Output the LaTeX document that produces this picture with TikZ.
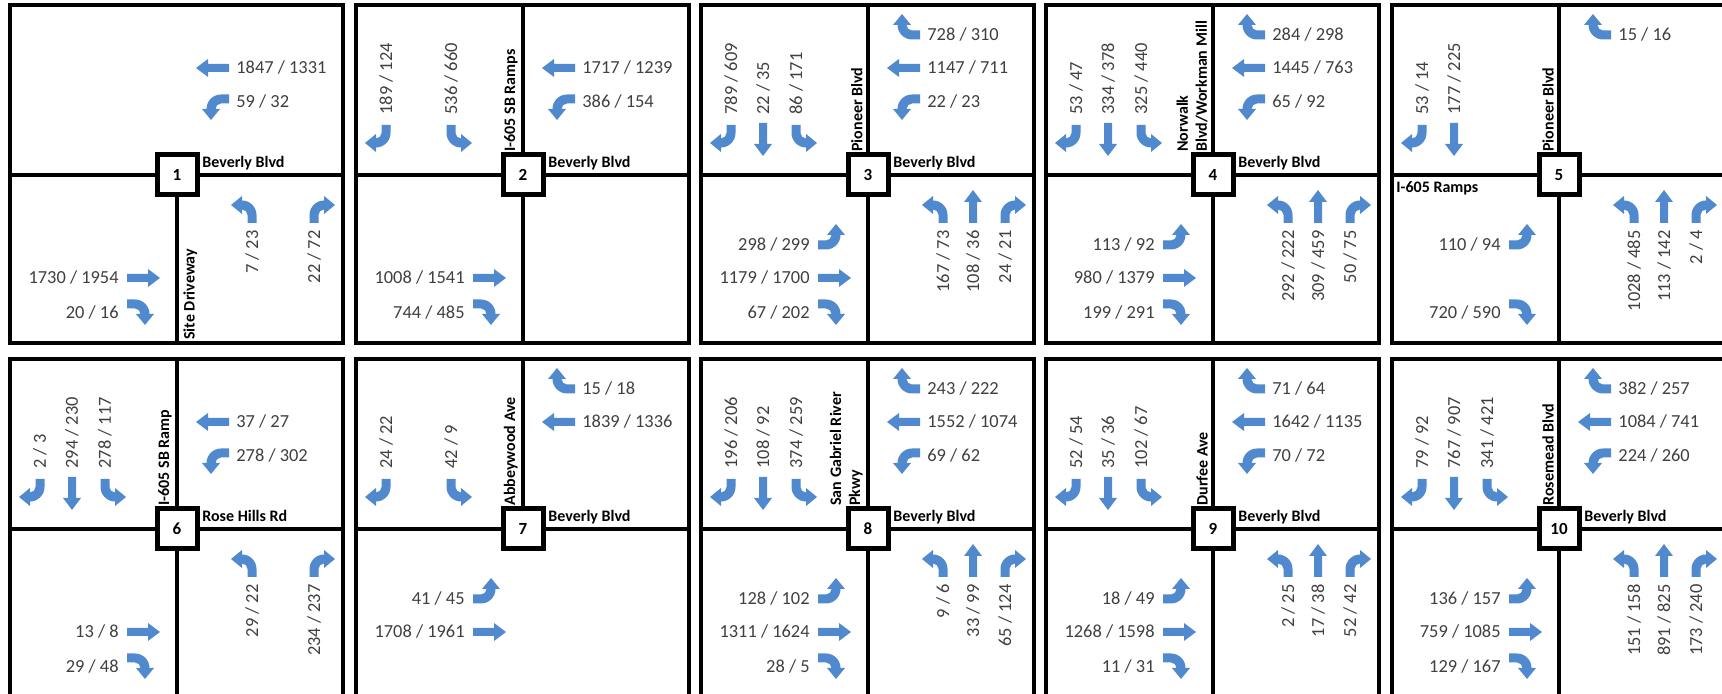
\documentclass[tikz,border=0pt]{standalone}
\usepackage{fontspec}
\setmainfont{Carlito}
\definecolor{flowblue}{RGB}{80,137,206}
\definecolor{voltext}{RGB}{64,64,64}
\tikzset{
  lturn/.pic={\fill[flowblue] (4.5,0) -- (4.5,8) arc[start angle=0,end angle=90,radius=14.5] -- (-10,27) -- (-21,18) -- (-10,9) -- (-10,13.5) arc[start angle=90,end angle=0,radius=5.5] -- (-4.5,0) -- cycle;},
  rturn/.pic={\fill[flowblue] (-4.5,0) -- (-4.5,8) arc[start angle=180,end angle=90,radius=14.5] -- (10,27) -- (21,18) -- (10,9) -- (10,13.5) arc[start angle=90,end angle=180,radius=5.5] -- (4.5,0) -- cycle;},
  thru/.pic={\fill[flowblue] (-4,0) -- (-4,21) -- (-9,21) -- (0,33) -- (9,21) -- (4,21) -- (4,0) -- cycle;}
}
% one movement: arrow + volume label, placed relative to the intersection
\newcommand\mv[3]{\csname mv#1\endcsname{#2}{#3}}
\newcommand\mvsbrt[2]{\pic[rotate=180] at (-137,50) {rturn}; \node[vol,rotate=90,anchor=west] (#2) at (-137,58) {#1};}
\newcommand\mvsbth[2]{\pic[rotate=180] at (-105,52) {thru}; \node[vol,rotate=90,anchor=west] (#2) at (-105,58) {#1};}
\newcommand\mvsblt[2]{\pic[rotate=180] at (-72,50) {lturn}; \node[vol,rotate=90,anchor=west] (#2) at (-72,58) {#1};}
\newcommand\mvwbrt[2]{\pic[rotate=90] at (52,140) {rturn}; \node[vol,anchor=west] (#2) at (57,140) {#1};}
\newcommand\mvwbth[2]{\pic[rotate=90] at (52,107) {thru}; \node[vol,anchor=west] (#2) at (57,107) {#1};}
\newcommand\mvwblt[2]{\pic[rotate=90] at (52,76) {lturn}; \node[vol,anchor=west] (#2) at (57,73) {#1};}
\newcommand\mveblt[2]{\pic[rotate=-90] at (-50,-70) {lturn}; \node[vol,anchor=east] (#2) at (-56,-70) {#1};}
\newcommand\mvebth[2]{\pic[rotate=-90] at (-50,-103) {thru}; \node[vol,anchor=east] (#2) at (-56,-103) {#1};}
\newcommand\mvebrt[2]{\pic[rotate=-90] at (-50,-129) {rturn}; \node[vol,anchor=east] (#2) at (-56,-138) {#1};}
\newcommand\mvnblt[2]{\pic at (75,-48) {lturn}; \node[vol,rotate=90,anchor=east] (#2) at (75,-53) {#1};}
\newcommand\mvnbth[2]{\pic at (105,-48) {thru}; \node[vol,rotate=90,anchor=east] (#2) at (105,-53) {#1};}
\newcommand\mvnbrt[2]{\pic at (137,-48) {rturn}; \node[vol,rotate=90,anchor=east] (#2) at (137,-53) {#1};}
\begin{document}
\begin{tikzpicture}[x=0.5pt,y=0.5pt,
  panelframe/.style={line width=2pt},
  road/.style={line width=2pt},
  xbox/.style={draw,line width=2.5pt,fill=white,minimum size=20pt,inner sep=0pt,font=\bfseries\fontsize{8.5}{10}\selectfont},
  street/.style={inner sep=0pt,font=\bfseries\fontsize{8}{9.5}\selectfont},
  vol/.style={inner sep=1pt,text=voltext,font=\fontsize{9.2}{11}\selectfont}]
  \clip (0,0) rectangle (1722,694);
  \fill[white] (0,0) rectangle (1722,694);

  % 1: Site Driveway
  \begin{scope}[shift={(177,519)}]
    \draw[panelframe] (-167,-168) rectangle (166,170);
    \node[xbox] (x1) at (0,0) {1};
    \draw[road] (-167,0) -- (x1.west) (x1.east) -- (166,0) (x1.south) -- (0,-168);
    \node[street,anchor=base west] (e1) at (25,7) {Beverly Blvd};
    \node[street,rotate=90,anchor=north west] (s1) at (6,-165) {Site Driveway};
    \foreach \m/\a/\b [count=\k] in {wbth/1847/1331,wblt/59/32,ebth/1730/1954,ebrt/20/16,nblt/7/23,nbrt/22/72}
      {\mv{\m}{\a{} / \b}{p1m\k}}
  \end{scope}

  % 2: I-605 SB Ramps
  \begin{scope}[shift={(523,519)}]
    \draw[panelframe] (-167,-168) rectangle (166,170);
    \node[xbox] (x2) at (0,0) {2};
    \draw[road] (-167,0) -- (x2.west) (x2.east) -- (166,0) (x2.south) -- (0,-168) (x2.north) -- (0,170);
    \node[street,anchor=base west] (e2) at (25,7) {Beverly Blvd};
    \node[street,rotate=90,anchor=south west] (n2) at (-5,23) {I-605 SB Ramps};
    \foreach \m/\a/\b [count=\k] in {sbrt/189/124,sblt/536/660,wbth/1717/1239,wblt/386/154,ebth/1008/1541,ebrt/744/485}
      {\mv{\m}{\a{} / \b}{p2m\k}}
  \end{scope}

  % 3: Pioneer Blvd
  \begin{scope}[shift={(868,519)}]
    \draw[panelframe] (-167,-168) rectangle (166,170);
    \node[xbox] (x3) at (0,0) {3};
    \draw[road] (-167,0) -- (x3.west) (x3.east) -- (166,0) (x3.south) -- (0,-168) (x3.north) -- (0,170);
    \node[street,anchor=base west] (e3) at (25,7) {Beverly Blvd};
    \node[street,rotate=90,anchor=south west] (n3) at (-5,23) {Pioneer Blvd};
    \foreach \m/\a/\b [count=\k] in {sbrt/789/609,sbth/22/35,sblt/86/171,wbrt/728/310,wbth/1147/711,wblt/22/23,
        eblt/298/299,ebth/1179/1700,ebrt/67/202,nblt/167/73,nbth/108/36,nbrt/24/21}
      {\mv{\m}{\a{} / \b}{p3m\k}}
  \end{scope}

  % 4: Norwalk Blvd/Workman Mill
  \begin{scope}[shift={(1213,519)}]
    \draw[panelframe] (-167,-168) rectangle (166,170);
    \node[xbox] (x4) at (0,0) {4};
    \draw[road] (-167,0) -- (x4.west) (x4.east) -- (166,0) (x4.south) -- (0,-168) (x4.north) -- (0,170);
    \node[street,anchor=base west] (e4) at (25,7) {Beverly Blvd};
    \node[street,rotate=90,anchor=south west,align=left] (n4) at (-5,23) {Norwalk\\Blvd/Workman Mill};
    \foreach \m/\a/\b [count=\k] in {sbrt/53/47,sbth/334/378,sblt/325/440,wbrt/284/298,wbth/1445/763,wblt/65/92,
        eblt/113/92,ebth/980/1379,ebrt/199/291,nblt/292/222,nbth/309/459,nbrt/50/75}
      {\mv{\m}{\a{} / \b}{p4m\k}}
  \end{scope}

  % 5: Pioneer Blvd / I-605 Ramps
  \begin{scope}[shift={(1559,519)}]
    \draw[panelframe] (-167,-168) rectangle (166,170);
    \node[xbox] (x5) at (0,0) {5};
    \draw[road] (-167,0) -- (x5.west) (x5.east) -- (166,0) (x5.south) -- (0,-168) (x5.north) -- (0,170);
    \node[street,anchor=north west] (w5) at (-163,-6) {I-605 Ramps};
    \node[street,rotate=90,anchor=south west] (n5) at (-5,23) {Pioneer Blvd};
    \foreach \m/\a/\b [count=\k] in {sbrt/53/14,sbth/177/225,wbrt/15/16,eblt/110/94,ebrt/720/590,
        nblt/1028/485,nbth/113/142,nbrt/2/4}
      {\mv{\m}{\a{} / \b}{p5m\k}}
  \end{scope}

  % 6: I-605 SB Ramp / Rose Hills Rd
  \begin{scope}[shift={(177,165)}]
    \draw[panelframe] (-167,-168) rectangle (166,170);
    \node[xbox] (x6) at (0,0) {6};
    \draw[road] (-167,0) -- (x6.west) (x6.east) -- (166,0) (x6.south) -- (0,-168) (x6.north) -- (0,170);
    \node[street,anchor=base west] (e6) at (25,7) {Rose Hills Rd};
    \node[street,rotate=90,anchor=south west] (n6) at (-5,23) {I-605 SB Ramp};
    \foreach \m/\a/\b [count=\k] in {sbrt/2/3,sbth/294/230,sblt/278/117,wbth/37/27,wblt/278/302,
        ebth/13/8,ebrt/29/48,nblt/29/22,nbrt/234/237}
      {\mv{\m}{\a{} / \b}{p6m\k}}
  \end{scope}

  % 7: Abbeywood Ave
  \begin{scope}[shift={(523,165)}]
    \draw[panelframe] (-167,-168) rectangle (166,170);
    \node[xbox] (x7) at (0,0) {7};
    \draw[road] (-167,0) -- (x7.west) (x7.east) -- (166,0) (x7.north) -- (0,170);
    \node[street,anchor=base west] (e7) at (25,7) {Beverly Blvd};
    \node[street,rotate=90,anchor=south west] (n7) at (-5,23) {Abbeywood Ave};
    \foreach \m/\a/\b [count=\k] in {sbrt/24/22,sblt/42/9,wbrt/15/18,wbth/1839/1336,eblt/41/45,ebth/1708/1961}
      {\mv{\m}{\a{} / \b}{p7m\k}}
  \end{scope}

  % 8: San Gabriel River Pkwy
  \begin{scope}[shift={(868,165)}]
    \draw[panelframe] (-167,-168) rectangle (166,170);
    \node[xbox] (x8) at (0,0) {8};
    \draw[road] (-167,0) -- (x8.west) (x8.east) -- (166,0) (x8.south) -- (0,-168) (x8.north) -- (0,170);
    \node[street,anchor=base west] (e8) at (25,7) {Beverly Blvd};
    \node[street,rotate=90,anchor=south west,align=left] (n8) at (-5,23) {San Gabriel River\\Pkwy};
    \foreach \m/\a/\b [count=\k] in {sbrt/196/206,sbth/108/92,sblt/374/259,wbrt/243/222,wbth/1552/1074,wblt/69/62,
        eblt/128/102,ebth/1311/1624,ebrt/28/5,nblt/9/6,nbth/33/99,nbrt/65/124}
      {\mv{\m}{\a{} / \b}{p8m\k}}
  \end{scope}

  % 9: Durfee Ave
  \begin{scope}[shift={(1213,165)}]
    \draw[panelframe] (-167,-168) rectangle (166,170);
    \node[xbox] (x9) at (0,0) {9};
    \draw[road] (-167,0) -- (x9.west) (x9.east) -- (166,0) (x9.south) -- (0,-168) (x9.north) -- (0,170);
    \node[street,anchor=base west] (e9) at (25,7) {Beverly Blvd};
    \node[street,rotate=90,anchor=south west] (n9) at (-5,23) {Durfee Ave};
    \foreach \m/\a/\b [count=\k] in {sbrt/52/54,sbth/35/36,sblt/102/67,wbrt/71/64,wbth/1642/1135,wblt/70/72,
        eblt/18/49,ebth/1268/1598,ebrt/11/31,nblt/2/25,nbth/17/38,nbrt/52/42}
      {\mv{\m}{\a{} / \b}{p9m\k}}
  \end{scope}

  % 10: Rosemead Blvd
  \begin{scope}[shift={(1559,165)}]
    \draw[panelframe] (-167,-168) rectangle (166,170);
    \node[xbox] (x10) at (0,0) {10};
    \draw[road] (-167,0) -- (x10.west) (x10.east) -- (166,0) (x10.south) -- (0,-168) (x10.north) -- (0,170);
    \node[street,anchor=base west] (e10) at (25,7) {Beverly Blvd};
    \node[street,rotate=90,anchor=south west] (n10) at (-5,23) {Rosemead Blvd};
    \foreach \m/\a/\b [count=\k] in {sbrt/79/92,sbth/767/907,sblt/341/421,wbrt/382/257,wbth/1084/741,wblt/224/260,
        eblt/136/157,ebth/759/1085,ebrt/129/167,nblt/151/158,nbth/891/825,nbrt/173/240}
      {\mv{\m}{\a{} / \b}{p10m\k}}
  \end{scope}
\end{tikzpicture}
\end{document}
